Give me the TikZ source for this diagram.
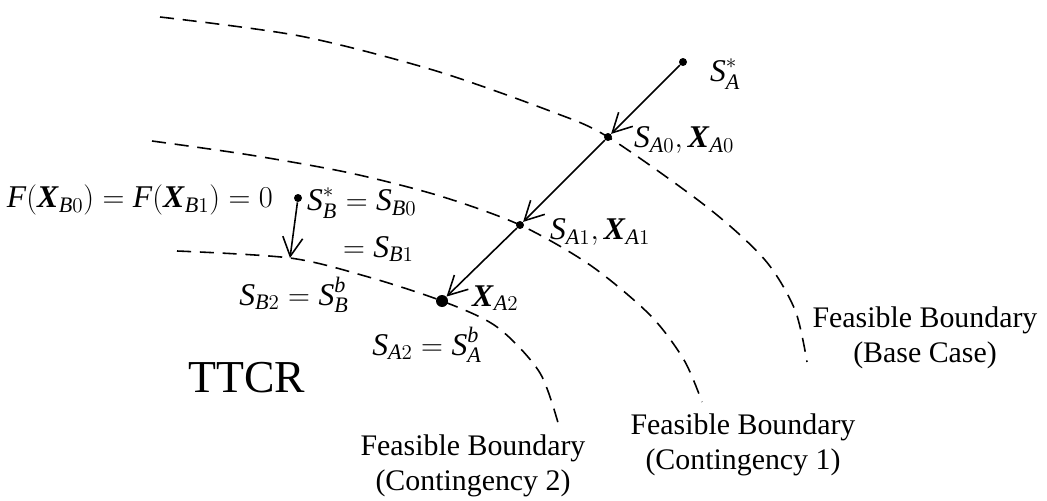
\documentclass[tikz,border=0pt]{standalone}
\usepackage{amsmath}
\usepackage{fontspec}
\setmainfont{Liberation Serif}
\usetikzlibrary{arrows.meta,positioning}

\newcommand{\vS}{\textit{S}}
\newcommand{\vX}{\textbf{\textit{X}}}
\newcommand{\ii}[1]{\textit{#1}}

\begin{document}
\begin{tikzpicture}[
    x=0.02cm, y=-0.02cm,
    bound/.style={dash pattern=on 8pt off 5pt, line width=0.9pt},
    arr/.style={-{Straight Barb[length=3.8mm,width=4mm]}, line width=0.9pt},
    smalldot/.style={circle, fill, inner sep=0pt, minimum size=1.6mm},
    bigdot/.style={circle, fill, inner sep=0pt, minimum size=2.4mm},
    lab/.style={font=\fontsize{18}{22}\selectfont, inner sep=1pt},
    caption/.style={font=\fontsize{17}{20}\selectfont, align=center}
]
\useasboundingbox (0,0) rectangle (1047,500);

% feasible boundaries
\draw[bound] plot[smooth] coordinates {(160,17) (300,36) (433,70) (550,111) (608,137) (707,207) (765,260) (795,310) (807,362)};
\draw[bound] plot[smooth] coordinates {(152,141) (250,155) (350,173) (440,196) (520,225) (590,265) (650,315) (684,360) (702,402)};
\draw[bound] plot[smooth] coordinates {(177,251) (290,258) (365,276) (442,301) (497,327) (540,373) (560,430)};

% operating points
\node[smalldot] (sAstar) at (683,62) {};
\node[smalldot] (sA0) at (608,137) {};
\node[smalldot] (sA1) at (520,225) {};
\node[bigdot] (xA2) at (442,301) {};
\node[smalldot] (sBstar) at (298,198) {};
\coordinate (sB2) at (290,258);

\draw[arr] (sAstar) -- (sA0);
\draw[arr] (sA0) -- (sA1);
\draw[arr] (sA1) -- (xA2);
\draw[arr] (sBstar) -- (sB2);

% labels
\node[lab, anchor=west] (lAstar) at (708,74) {$\vS_{\ii{A}}^{*}$};
\node[lab, anchor=west] (lA0) at (632,140) {$\vS_{\ii{A}0}, \vX_{\ii{A}0}$};
\node[lab, anchor=west] (lA1) at (548,232) {$\vS_{\ii{A}1}, \vX_{\ii{A}1}$};
\node[lab, anchor=west] (lA2) at (470,298) {$\vX_{\ii{A}2}$};
\node[lab] (lA2b) at (427,345) {$\vS_{\ii{A}2} = \vS_{\ii{A}}^{\ii{b}}$};
\node[lab, anchor=east] (lF) at (275,200) {$\ii{F}(\vX_{\ii{B}0}) = \ii{F}(\vX_{\ii{B}1}) = 0$};
\node[lab, anchor=west] (lB0) at (305,203) {$\vS_{\ii{B}}^{*} = \vS_{\ii{B}0}$};
\node[lab, anchor=west] (lB1) at (341,249) {$= \vS_{\ii{B}1}$};
\node[lab] (lB2) at (294,295) {$\vS_{\ii{B}2} = \vS_{\ii{B}}^{\ii{b}}$};

\node[font=\fontsize{26}{30}\selectfont] (ttcr) at (247,378) {TTCR};

\node[caption] (capBase) at (925,338) {Feasible Boundary\\(Base Case)};
\node[caption] (capC1) at (743,445) {Feasible Boundary\\(Contingency 1)};
\node[caption] (capC2) at (473,466) {Feasible Boundary\\(Contingency 2)};
\end{tikzpicture}
\end{document}
